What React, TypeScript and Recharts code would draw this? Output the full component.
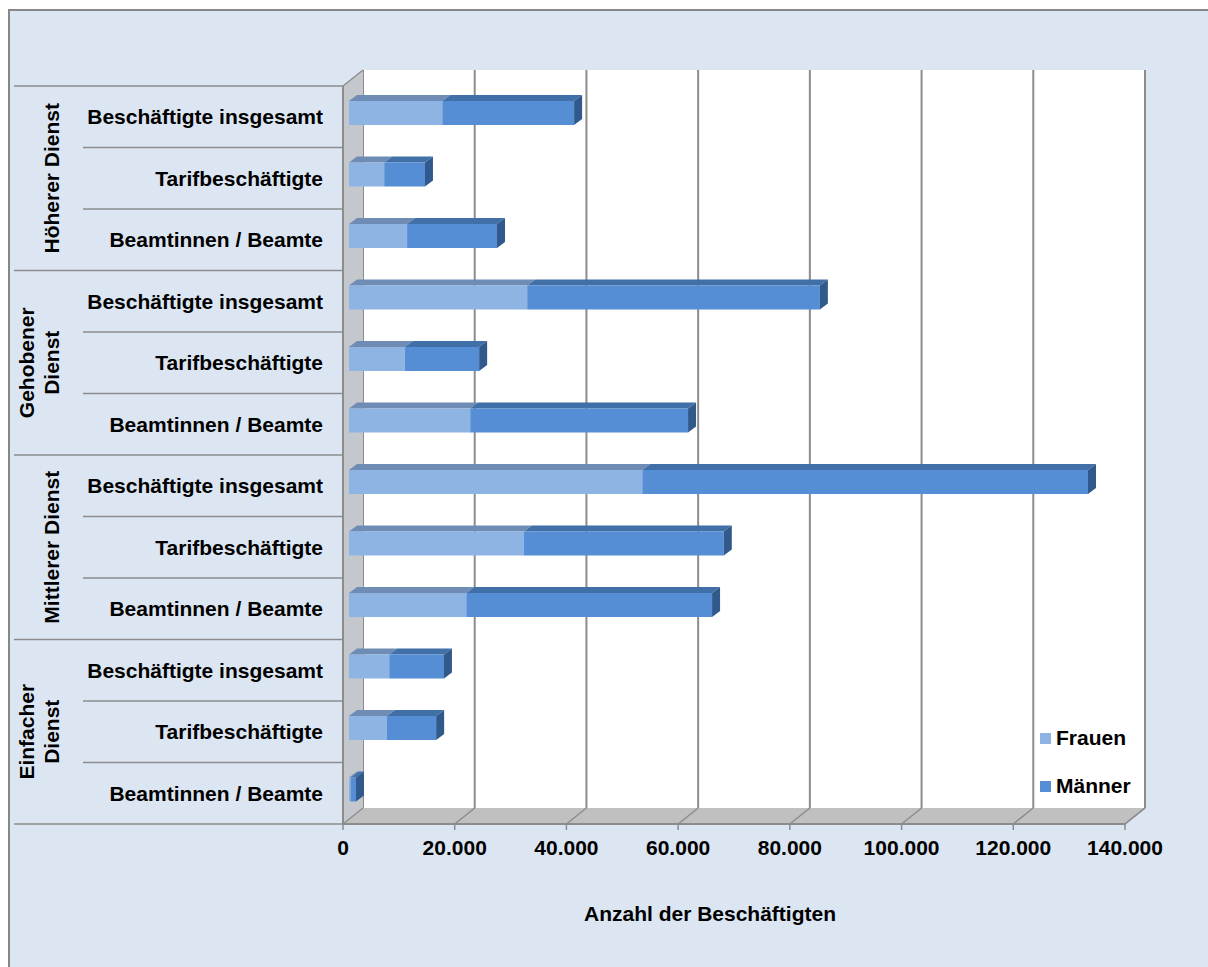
import { BarChart, Bar, XAxis, YAxis, CartesianGrid, Legend } from 'recharts'

const ROW_LABELS = [
  'Beschäftigte insgesamt', 'Tarifbeschäftigte', 'Beamtinnen / Beamte',
  'Beschäftigte insgesamt', 'Tarifbeschäftigte', 'Beamtinnen / Beamte',
  'Beschäftigte insgesamt', 'Tarifbeschäftigte', 'Beamtinnen / Beamte',
  'Beschäftigte insgesamt', 'Tarifbeschäftigte', 'Beamtinnen / Beamte',
]
const GROUP_LABELS = [['Höherer Dienst'], ['Gehobener', 'Dienst'], ['Mittlerer Dienst'], ['Einfacher', 'Dienst']]

const FRAUEN = [16700, 6300, 10400, 31900, 10000, 21700, 52500, 31300, 21000, 7200, 6800, 300]
const MAENNER = [23600, 7300, 16100, 52400, 13300, 39000, 79800, 35800, 44000, 9800, 8800, 950]

const X_TICKS = [0, 20000, 40000, 60000, 80000, 100000, 120000, 140000]

const data = ROW_LABELS.map((label, i) => ({
  key: `r${i}`,
  label,
  frauen: FRAUEN[i],
  maenner: MAENNER[i],
}))

// layout of the 3D box: back wall is the plot area, walls are shifted by DX/DY
const W = 1208
const H = 967
const LEFT = 363
const TOP = 70
const RIGHT = 1145
const BOTTOM = 808
const DX = 20
const DY = 16
const ROW_H = (BOTTOM - TOP) / ROW_LABELS.length

// bars sit a bit in front of the back wall
const BAR_DX = 14
const BAR_DY = 12
const BAR_SIZE = 24
const BAR_DEPTH_X = 8
const BAR_DEPTH_Y = 6

const FONT = '"Liberation Sans", Arial, sans-serif'
const FS = 21
const LINE = '#8c8c8c'

const COLORS = {
  frauen: { front: '#8db4e3', top: '#6f8cb4', side: '#5f7ca3' },
  maenner: { front: '#558ed5', top: '#416fa8', side: '#32598c' },
}

const fmt = (v: number) => String(v).replace(/\B(?=(\d{3})+(?!\d))/g, '.')

function bar3d(c: { front: string; top: string; side: string }, withSide: boolean) {
  return (props: any) => {
    const { x, y, width, height } = props
    if (!(width > 0)) return <g />
    const fx = x - BAR_DX
    const fy = y + BAR_DY
    const bx = fx + BAR_DEPTH_X
    const by = fy - BAR_DEPTH_Y
    return (
      <g>
        <polygon points={`${fx},${fy} ${bx},${by} ${bx + width},${by} ${fx + width},${fy}`} fill={c.top} />
        <rect x={fx} y={fy} width={width} height={height} fill={c.front} />
        {withSide && (
          <polygon
            points={`${fx + width},${fy} ${bx + width},${by} ${bx + width},${by + height} ${fx + width},${fy + height}`}
            fill={c.side}
          />
        )}
      </g>
    )
  }
}

const XTick = (props: any) => {
  const { x, payload } = props
  const fx = x - DX
  return (
    <g>
      <line x1={fx} y1={BOTTOM + DY} x2={x} y2={BOTTOM} stroke={LINE} strokeWidth={1.5} />
      <line x1={fx} y1={BOTTOM + DY} x2={fx} y2={BOTTOM + DY + 6} stroke={LINE} strokeWidth={1.5} />
      <text x={fx} y={855} textAnchor="middle" fontFamily={FONT} fontSize={FS} fontWeight="bold" fill="#000">
        {fmt(payload.value)}
      </text>
    </g>
  )
}

const YTick = (props: any) => {
  const { y, index } = props
  const cy = y + DY
  const group = Math.floor(index / 3)
  const lines = GROUP_LABELS[group]
  const groupLineX = 14
  return (
    <g>
      {index === 0 && (
        <line x1={groupLineX} y1={cy - ROW_H / 2} x2={LEFT - DX} y2={cy - ROW_H / 2} stroke={LINE} strokeWidth={1.5} />
      )}
      <line
        x1={index % 3 === 2 ? groupLineX : 83}
        y1={cy + ROW_H / 2}
        x2={LEFT - DX}
        y2={cy + ROW_H / 2}
        stroke={LINE}
        strokeWidth={1.5}
      />
      <text x={323} y={cy + 7.5} textAnchor="end" fontFamily={FONT} fontSize={FS} fontWeight="bold" fill="#000">
        {ROW_LABELS[index]}
      </text>
      {index % 3 === 1 &&
        lines.map((t, k) => {
          const bx = lines.length === 1 ? 59 : 34 + k * 25
          return (
            <text
              key={t}
              x={bx}
              y={cy}
              transform={`rotate(-90, ${bx}, ${cy})`}
              textAnchor="middle"
              fontFamily={FONT}
              fontSize={FS}
              fontWeight="bold"
              fill="#000"
            >
              {t}
            </text>
          )
        })}
    </g>
  )
}

const LegendBox = () => (
  <div style={{ fontFamily: FONT, fontSize: FS, fontWeight: 'bold', color: '#000' }}>
    {[
      { name: 'Frauen', color: COLORS.frauen.front },
      { name: 'Männer', color: COLORS.maenner.front },
    ].map((it, i) => (
      <div key={it.name} style={{ display: 'flex', alignItems: 'center', height: 24, marginTop: i ? 24 : 0 }}>
        <span style={{ width: 11, height: 11, background: it.color, marginRight: 5 }} />
        <span>{it.name}</span>
      </div>
    ))}
  </div>
)

export default function App() {
  return (
    <div style={{ position: 'relative', width: W, height: H, background: '#fff', overflow: 'hidden' }}>
      <style>{'body{margin:0}'}</style>
      <div
        style={{
          position: 'absolute',
          left: 8,
          top: 9,
          right: -4,
          bottom: -4,
          background: '#dce6f2',
          borderLeft: '2px solid #878787',
          borderTop: '2px solid #878787',
        }}
      />
      <div style={{ position: 'absolute', left: 0, top: 0 }}>
        <BarChart
          width={W}
          height={H}
          data={data}
          layout="vertical"
          barSize={BAR_SIZE}
          margin={{ top: TOP, right: W - RIGHT, bottom: H - BOTTOM - 60, left: LEFT - 60 }}
        >
          {/* side wall and floor of the 3D box */}
          <g>
            <polygon
              points={`${LEFT - DX},${TOP + DY} ${LEFT},${TOP} ${LEFT},${BOTTOM} ${LEFT - DX},${BOTTOM + DY}`}
              fill="#c4c8cd"
            />
            <polygon
              points={`${LEFT - DX},${BOTTOM + DY} ${LEFT},${BOTTOM} ${RIGHT},${BOTTOM} ${RIGHT - DX},${BOTTOM + DY}`}
              fill="#c0c0c0"
            />
            <line x1={LEFT - DX} y1={TOP + DY} x2={LEFT} y2={TOP} stroke={LINE} strokeWidth={1.5} />
            <line x1={LEFT - DX} y1={TOP + DY} x2={LEFT - DX} y2={BOTTOM + DY} stroke={LINE} strokeWidth={2} />
            <line x1={LEFT - DX} y1={BOTTOM + DY} x2={RIGHT - DX} y2={BOTTOM + DY} stroke={LINE} strokeWidth={2} />
            <line x1={RIGHT - DX} y1={BOTTOM + DY} x2={RIGHT} y2={BOTTOM} stroke={LINE} strokeWidth={1.5} />
          </g>
          <CartesianGrid horizontal={false} stroke={LINE} strokeWidth={2} fill="#ffffff" />
          <XAxis
            type="number"
            domain={[0, 140000]}
            ticks={X_TICKS}
            interval={0}
            height={60}
            axisLine={false}
            tickLine={false}
            tick={<XTick />}
          />
          <YAxis
            type="category"
            dataKey="key"
            width={60}
            interval={0}
            axisLine={false}
            tickLine={false}
            tick={<YTick />}
          />
          <Bar dataKey="frauen" name="Frauen" stackId="a" fill={COLORS.frauen.front} shape={bar3d(COLORS.frauen, false)} isAnimationActive={false} />
          <Bar dataKey="maenner" name="Männer" stackId="a" fill={COLORS.maenner.front} shape={bar3d(COLORS.maenner, true)} isAnimationActive={false} />
          <Legend
            layout="vertical"
            align="center"
            verticalAlign="middle"
            content={<LegendBox />}
            wrapperStyle={{ position: 'absolute', left: 1040, top: 726, width: 120, height: 72 }}
          />
          <text x={710} y={921} textAnchor="middle" fontFamily={FONT} fontSize={FS} fontWeight="bold" fill="#000">
            Anzahl der Beschäftigten
          </text>
        </BarChart>
      </div>
    </div>
  )
}
